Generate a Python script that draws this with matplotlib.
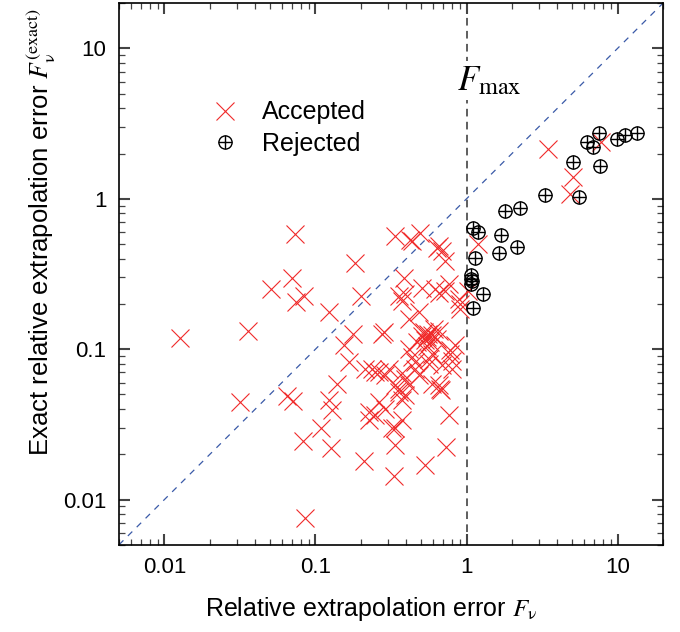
import numpy as np
import matplotlib
matplotlib.use("Agg")
import matplotlib.pyplot as plt
from matplotlib.ticker import LogLocator, FixedLocator, NullFormatter
from matplotlib.legend_handler import HandlerTuple

plt.rcParams['font.family'] = ['Liberation Sans', 'DejaVu Sans']
plt.rcParams['mathtext.fontset'] = 'stix'

# accepted estimates: relative extrapolation error vs exact error
acc_x = [0.0126, 0.0316, 0.0357, 0.0506, 0.0651, 0.0697, 0.0713, 0.0732, 0.0747, 0.0836,
         0.0831, 0.0849, 0.108, 0.123, 0.126, 0.129, 0.139, 0.123, 0.154, 0.166,
         0.177, 0.182, 0.199, 0.209, 0.214, 0.225, 0.225, 0.237, 0.249, 0.249,
         0.263, 0.263, 0.276, 0.283, 0.29, 0.29, 0.306, 0.32, 0.33, 0.338,
         0.338, 0.338, 0.338, 0.356, 0.356, 0.356, 0.372, 0.374, 0.374, 0.374,
         0.384, 0.394, 0.394, 0.394, 0.414, 0.414, 0.414, 0.425, 0.436, 0.436,
         0.458, 0.458, 0.47, 0.482, 0.482, 0.494, 0.507, 0.507, 0.52, 0.53,
         0.547, 0.56, 0.575, 0.59, 0.55, 0.528, 0.561, 0.561, 0.59, 0.59,
         0.606, 0.621, 0.637, 0.637, 0.653, 0.653, 0.653, 0.653, 0.667, 0.681,
         0.687, 0.687, 0.716, 0.723, 0.73, 0.76, 0.76, 0.78, 0.78, 0.8,
         0.8, 0.842, 0.886, 0.909, 0.909, 1.03, 1.2, 3.48, 4.88, 5.08, 7.82]
acc_y = [0.118, 0.0447, 0.132, 0.25, 0.0489, 0.297, 0.045, 0.587, 0.205, 0.224,
         0.0245, 0.00756, 0.0297, 0.0457, 0.0219, 0.0393, 0.059, 0.176, 0.106, 0.082,
         0.126, 0.376, 0.224, 0.0179, 0.074, 0.0384, 0.0337, 0.074, 0.0364, 0.0705,
         0.0447, 0.0705, 0.126, 0.13, 0.067, 0.0403, 0.074, 0.0297, 0.0143, 0.0231,
         0.0574, 0.0297, 0.569, 0.226, 0.052, 0.0547, 0.21, 0.0337, 0.0457, 0.069,
         0.299, 0.232, 0.0636, 0.0493, 0.0574, 0.1, 0.159, 0.536, 0.522, 0.0885,
         0.082, 0.074, 0.111, 0.067, 0.176, 0.593, 0.257, 0.123, 0.13, 0.115,
         0.12, 0.127, 0.112, 0.125, 0.105, 0.0169, 0.0865, 0.08, 0.059, 0.093,
         0.136, 0.25, 0.117, 0.472, 0.484, 0.133, 0.238, 0.0574, 0.0547, 0.0532,
         0.449, 0.078, 0.385, 0.244, 0.0225, 0.27, 0.0364, 0.098, 0.093, 0.074,
         0.084, 0.106, 0.215, 0.185, 0.2, 0.243, 0.5, 2.13, 1.07, 1.39, 2.39]

# rejected estimates
rej_x = [7.55, 13.4, 11.15, 9.93, 6.29, 6.86, 5.06, 7.66, 3.31, 5.54, 2.26, 1.81,
         1.11, 1.20, 1.68, 2.16, 1.65, 1.14, 1.07, 1.07, 1.08, 1.07, 1.28, 1.10]
rej_y = [2.72, 2.72, 2.65, 2.49, 2.39, 2.22, 1.76, 1.65, 1.06, 1.03, 0.868, 0.824,
         0.637, 0.599, 0.572, 0.477, 0.438, 0.403, 0.311, 0.295, 0.284, 0.273, 0.232, 0.187]

f_max = 1.0
lims = [0.005, 20]
major = [0.01, 0.1, 1, 10]
major_labels = ['0.01', '0.1', '1', '10']

fig = plt.figure(figsize=(6.8, 6.32), dpi=100)
ax = fig.add_axes([0.175, 0.138, 0.8, 0.857])
ax.set_xscale('log')
ax.set_yscale('log')
ax.set_xlim(lims)
ax.set_ylim(lims)

ax.plot(lims, lims, ls=(0, (5, 5)), color='#3a5aa8', lw=0.9, zorder=1)
ax.axvline(f_max, ls=(0, (5, 3.5)), color='#333333', lw=1.1, zorder=1)

red = '#f02a2a'
h_acc, = ax.plot(acc_x, acc_y, ls='none', marker='x', ms=12.5, mew=0.8,
                 color=red, zorder=3)
h_rc, = ax.plot(rej_x, rej_y, ls='none', marker='o', ms=9.5, mew=1.0,
                mfc='none', mec='black', zorder=4)
h_rp, = ax.plot(rej_x, rej_y, ls='none', marker='+', ms=9.5, mew=1.0,
                color='black', zorder=4)

ax.text(0.86, 5.3, r'$F_{\mathrm{max}}$', fontsize=25, ha='left', va='baseline',
        bbox=dict(facecolor='white', edgecolor='none', pad=2), zorder=2)

ax.legend([h_acc, (h_rc, h_rp)], ['Accepted', 'Rejected'],
          handler_map={tuple: HandlerTuple(ndivide=1)},
          loc='upper left', bbox_to_anchor=(0.148, 0.839), frameon=False,
          fontsize=18, handlelength=1.2, handletextpad=0.9, labelspacing=0.3,
          borderaxespad=0)

for axis in (ax.xaxis, ax.yaxis):
    axis.set_major_locator(FixedLocator(major))
    axis.set_minor_locator(LogLocator(base=10, subs=np.arange(2, 10)))
    axis.set_minor_formatter(NullFormatter())
ax.set_xticklabels(major_labels)
ax.set_yticklabels(major_labels)

ax.tick_params(which='both', direction='in', top=True, right=True, labelsize=16,
               color='#444444')
ax.tick_params(which='major', length=8, width=1.5, pad=9)
ax.tick_params(which='minor', length=4.5, width=0.9)
for s in ax.spines.values():
    s.set_linewidth(1.2)

ax.set_xlabel(r'Relative extrapolation error $F_{\mathrm{\nu}}$', fontsize=18, labelpad=12)
ax.set_ylabel(r'Exact relative extrapolation error $F_{\mathrm{\nu}}^{(\mathrm{exact})}$',
              fontsize=18.5, labelpad=4)
ax.xaxis.label.set_x(0.463)
ax.yaxis.label.set_y(0.577)

fig.savefig('out.png', dpi=100)
